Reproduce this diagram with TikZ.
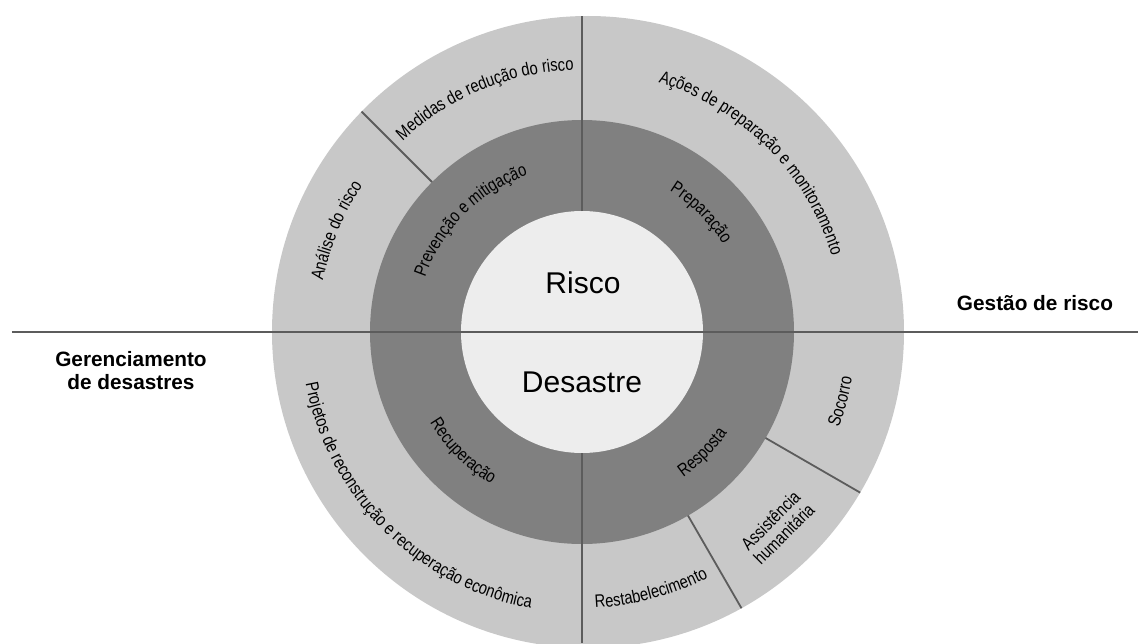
\documentclass[tikz,border=0pt]{standalone}
\usepackage{fontspec}
\setmainfont{Liberation Sans}
\newfontfamily\ringfont{Liberation Sans}[FakeStretch=0.82]
\usetikzlibrary{decorations.text}

\definecolor{outerring}{HTML}{C8C8C8}
\definecolor{midring}{HTML}{808080}
\definecolor{core}{HTML}{EDEDED}
\definecolor{divider}{HTML}{5C5C5C}

\newcommand\ringsize{\ringfont\fontsize{9}{10}\selectfont}

\tikzset{
  ringlabel/.style={decorate, decoration={text along path, text align=center, text={|\ringsize|#1}}},
  sidelabel/.style={font=\bfseries\fontsize{10.4}{11.5}\selectfont, align=center},
  bigword/.style={font=\fontsize{15}{17}\selectfont},
  divline/.style={divider, line width=0.9pt}
}

\begin{document}
\begin{tikzpicture}[x=0.5pt, y=0.5pt]
\useasboundingbox (-582,-311) rectangle (559,332);

% rings
\fill[outerring] (6,0) circle (316);
\fill[midring] (0,0) circle (212);
\fill[core] (0,0) circle (121);

% cuts
\draw[divider, line width=1.1pt] (-570,0) -- (556,0);
\draw[divline] (0,121) -- (0,316);
\draw[divline] (0,-121) -- (0,-311);
\draw[divline] (135:212) -- (135:311.7);
\draw[divline] (-30:212) -- (-30:321.2);
\draw[divline] (-60:212) -- (-60:319);

\node[bigword] (risco) at (1,49) {Risco};
\node[bigword] (desastre) at (0,-50) {Desastre};

% upper half, read clockwise
\path[ringlabel={Ações de preparação e monitoramento}] (90:261) arc[start angle=90, end angle=0, radius=261];
\path[ringlabel={Medidas de redução do risco}] (135:262) arc[start angle=135, end angle=90, radius=262];
\path[ringlabel={Análise do risco}] (180:264) arc[start angle=180, end angle=135, radius=264];
\path[ringlabel={Prevenção e mitigação}] (180:166) arc[start angle=180, end angle=90, radius=166];
\path[ringlabel={Preparação}] (90:166) arc[start angle=90, end angle=0, radius=166];

% lower half, read counter clockwise
\path[ringlabel={Projetos de reconstrução e recuperação econômica}] (180:281) arc[start angle=180, end angle=270, radius=281];
\path[ringlabel={Recuperação}] (180:177) arc[start angle=180, end angle=270, radius=177];
\path[ringlabel={Resposta}] (270:177) arc[start angle=270, end angle=360, radius=177];
\path[ringlabel={Restabelecimento}] (270:276) arc[start angle=270, end angle=300, radius=276];
\path[ringlabel={Socorro}] (330:274) arc[start angle=330, end angle=360, radius=274];
\node[rotate=45, align=center, font=\ringfont\fontsize{9}{9.5}\selectfont] (assist) at (-45:276) {Assistência\\humanitária};

\node[sidelabel, anchor=base] (gestao) at (453,22) {Gestão de risco};
\node[sidelabel] (gerenciamento) at (-451,-39) {Gerenciamento\\de desastres};
\end{tikzpicture}
\end{document}
